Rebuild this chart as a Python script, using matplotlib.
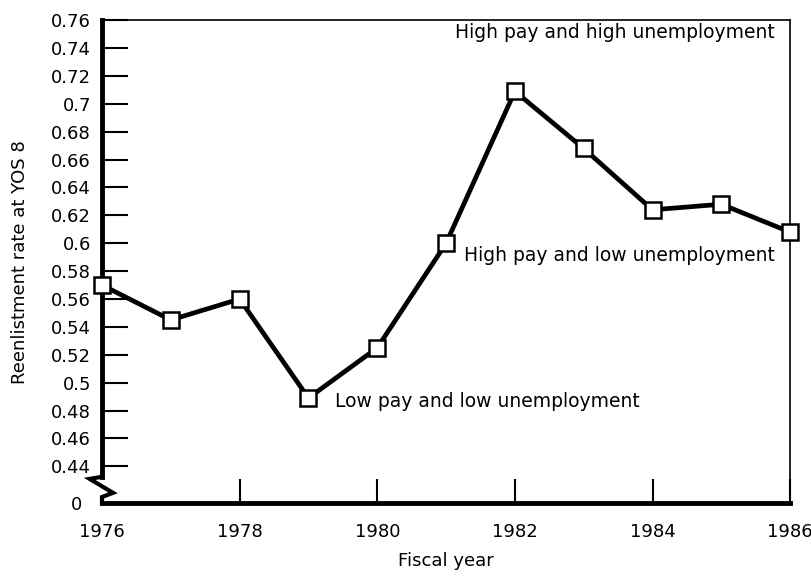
import numpy as np
import matplotlib
matplotlib.use('Agg')
import matplotlib.pyplot as plt

plt.rcParams['font.family'] = ['DejaVu Sans']

# data
years = [1976, 1977, 1978, 1979, 1980, 1981, 1982, 1983, 1984, 1985, 1986]
rates = [0.570, 0.545, 0.560, 0.489, 0.525, 0.600, 0.709, 0.668, 0.624, 0.628, 0.608]
ytick_vals = [0.44, 0.46, 0.48, 0.5, 0.52, 0.54, 0.56, 0.58, 0.6, 0.62,
              0.64, 0.66, 0.68, 0.7, 0.72, 0.74, 0.76]
ytick_labels = ['0.44', '0.46', '0.48', '0.5', '0.52', '0.54', '0.56', '0.58', '0.6',
                '0.62', '0.64', '0.66', '0.68', '0.7', '0.72', '0.74', '0.76']
xtick_vals = [1976, 1978, 1980, 1982, 1984, 1986]
notes = [('High pay and high unemployment', 1985.78, 0.7514, 'right'),
         ('High pay and low unemployment', 1985.78, 0.5914, 'right'),
         ('Low pay and low unemployment', 1979.38, 0.4864, 'left')]

# the broken axis: "0" sits a little below 0.44
y_zero_pos = 0.4136

fig = plt.figure(figsize=(8.12, 5.77), dpi=100)
ax = fig.add_axes([0.1256, 0.128, 0.8475, 0.837])

ax.plot(years, rates, color='black', lw=3.4, marker='s', ms=12,
        mfc='white', mec='black', mew=1.8, clip_on=False, zorder=3)

ax.set_xlim(1976, 1986)
ax.set_ylim(y_zero_pos, 0.76)
ax.set_xticks(xtick_vals)
ax.set_xticklabels([str(x) for x in xtick_vals], fontsize=13)
ax.set_yticks([y_zero_pos] + ytick_vals)
ax.set_yticklabels(['0'] + ytick_labels, fontsize=13)
ax.tick_params(axis='both', direction='in', width=1.5, color='black')
ax.tick_params(axis='y', length=19, pad=8)
ax.tick_params(axis='x', length=17, pad=14)
ax.yaxis.get_major_ticks()[0].tick1line.set_visible(False)
ax.yaxis.get_major_ticks()[0].set_pad(14)
ax.xaxis.get_major_ticks()[0].tick1line.set_visible(False)

for side in ['top', 'right']:
    ax.spines[side].set_linewidth(1.2)
ax.spines['bottom'].set_linewidth(3.5)
ax.spines['left'].set_linewidth(3.5)
ax.spines['left'].set_bounds(0.4325, 0.76)

# zigzag break mark on the y axis
zx = [0.0, -0.018, 0.016, 0.0, 0.0]
zy = [0.4325, 0.431, 0.421, 0.418, y_zero_pos]
ax.plot(zx, zy, color='black', lw=3.0, clip_on=False,
        transform=ax.get_yaxis_transform(), solid_joinstyle='miter')

for text, x, y, ha in notes:
    ax.text(x, y, text, fontsize=13.5, ha=ha, va='center')

ax.set_ylabel('Reenlistment rate at YOS 8', fontsize=13, labelpad=16)
ax.set_xlabel('Fiscal year', fontsize=13, labelpad=8)

fig.savefig('out.png', dpi=100)
